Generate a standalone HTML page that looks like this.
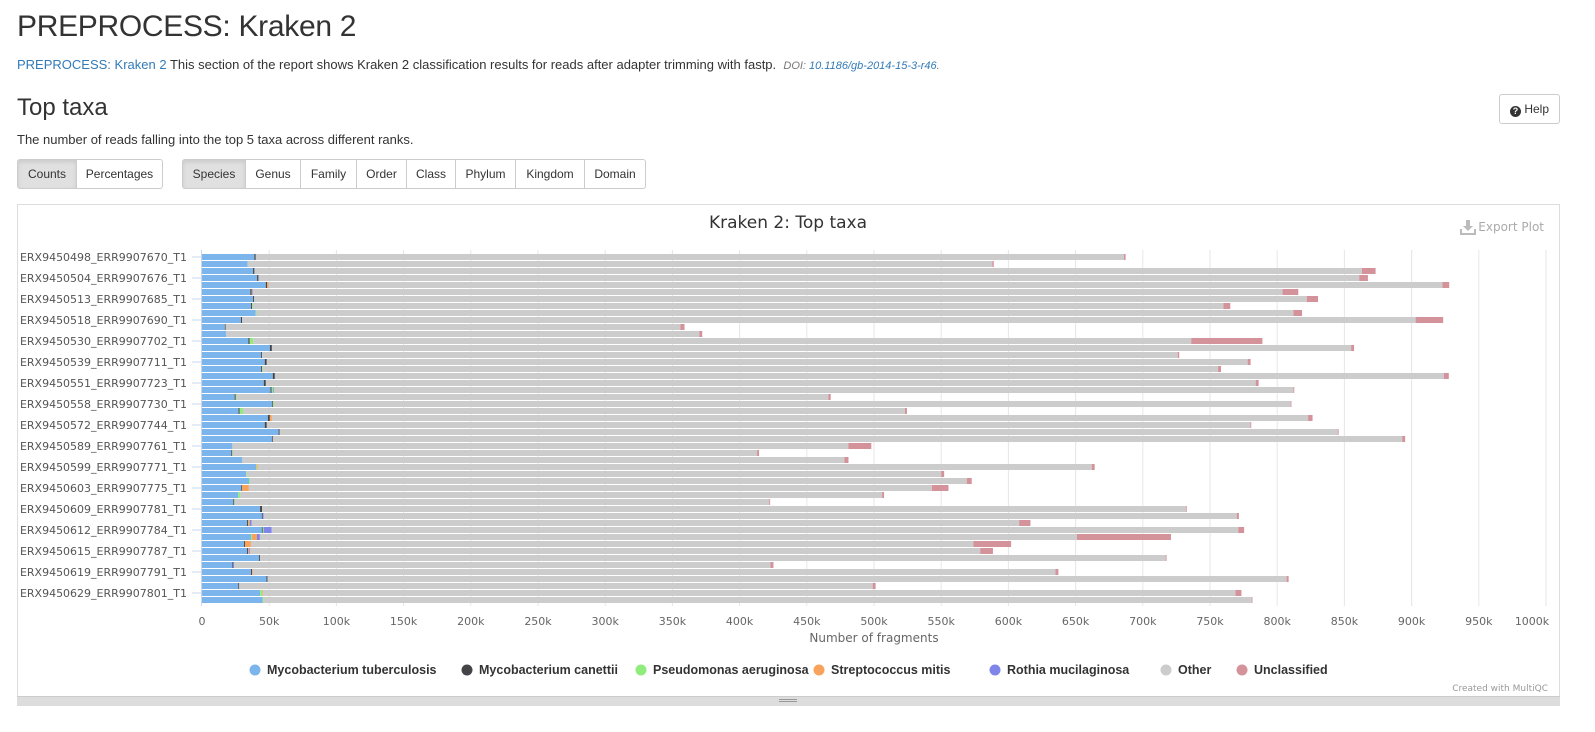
<!DOCTYPE html>
<html><head><meta charset="utf-8">
<style>
body{margin:0;background:#fff;font-family:"Liberation Sans",Arial,sans-serif;color:#333;width:1595px;height:732px;overflow:hidden;position:relative}
.abs{position:absolute}
h1{position:absolute;left:17px;top:10px;margin:0;font-size:30px;font-weight:500;color:#333;letter-spacing:-0.3px}
h2{position:absolute;left:17px;top:94px;margin:0;font-size:24px;font-weight:500}
.btn{position:absolute;height:28px;border:1px solid #ccc;background:#fff;font-size:12px;line-height:28px;text-align:center;color:#333;box-sizing:border-box}
.act{background:#e0e0e0;box-shadow:inset 0 2px 4px rgba(0,0,0,.1)}
.qi{display:inline-block;width:11px;height:11px;border-radius:50%;background:#333;color:#fff;font-size:9px;line-height:11px;font-weight:bold;text-align:center;vertical-align:-1px}
</style></head><body>
<h1>PREPROCESS: Kraken 2</h1>
<div class="abs" style="left:17px;top:57px;font-size:13px"><span style="color:#337ab7">PREPROCESS: Kraken 2</span> This section of the report shows Kraken 2 classification results for reads after adapter trimming with fastp. &nbsp;<i style="font-size:11px;color:#777">DOI: <span style="color:#337ab7">10.1186/gb-2014-15-3-r46</span>.</i></div>
<h2>Top taxa</h2>
<div class="btn" style="left:1499px;top:94px;width:61px;height:30px;line-height:29px;border-radius:3px"><span class="qi">?</span> Help</div>
<div class="abs" style="left:17px;top:132px;font-size:13px">The number of reads falling into the top 5 taxa across different ranks.</div>
<div class="btn act" style="left:17px;top:159px;width:60px;height:30px;line-height:29px;border-radius:3px 0 0 3px">Counts</div>
<div class="btn" style="left:76px;top:159px;width:87px;height:30px;line-height:29px;border-radius:0 3px 3px 0">Percentages</div>
<div class="btn act" style="left:182px;top:159px;width:64px;height:30px;line-height:29px;border-radius:3px 0 0 3px">Species</div>
<div class="btn" style="left:245px;top:159px;width:56px;height:30px;line-height:29px">Genus</div>
<div class="btn" style="left:300px;top:159px;width:57px;height:30px;line-height:29px">Family</div>
<div class="btn" style="left:356px;top:159px;width:51px;height:30px;line-height:29px">Order</div>
<div class="btn" style="left:406px;top:159px;width:50px;height:30px;line-height:29px">Class</div>
<div class="btn" style="left:455px;top:159px;width:61px;height:30px;line-height:29px">Phylum</div>
<div class="btn" style="left:515px;top:159px;width:70px;height:30px;line-height:29px">Kingdom</div>
<div class="btn" style="left:584px;top:159px;width:62px;height:30px;line-height:29px;border-radius:0 3px 3px 0">Domain</div>

<div class="abs" style="left:17px;top:204px;width:1543px;height:502px;border:1px solid #ddd;box-sizing:border-box"></div>
<div class="abs" style="left:17px;top:696px;width:1543px;height:10px;background:#ddd;border-top:1px solid #ccc;box-sizing:border-box"><div style="position:absolute;left:762px;top:2px;width:18px;height:1px;border-top:1px solid #999;border-bottom:1px solid #999"></div></div>
<svg class="abs" style="left:0;top:0" width="1595" height="732" id="chart"></svg>
<script>
const labels=["ERX9450498_ERR9907670_T1","ERX9450504_ERR9907676_T1","ERX9450513_ERR9907685_T1","ERX9450518_ERR9907690_T1","ERX9450530_ERR9907702_T1","ERX9450539_ERR9907711_T1","ERX9450551_ERR9907723_T1","ERX9450558_ERR9907730_T1","ERX9450572_ERR9907744_T1","ERX9450589_ERR9907761_T1","ERX9450599_ERR9907771_T1","ERX9450603_ERR9907775_T1","ERX9450609_ERR9907781_T1","ERX9450612_ERR9907784_T1","ERX9450615_ERR9907787_T1","ERX9450619_ERR9907791_T1","ERX9450629_ERR9907801_T1"];
const seriesNames=["Mycobacterium tuberculosis","Mycobacterium canettii","Pseudomonas aeruginosa","Streptococcus mitis","Rothia mucilaginosa","Other","Unclassified"];
const seriesColors=["#7cb5ec","#434348","#90ed7d","#f7a35c","#8085e9","#cccccc","#d4939b"];
const tuberculosis=[39,34,38,41,47.5,36,38,36.5,40,29,17,18,34.5,50.5,44,46.7,44,52.7,46,51,24.3,52,27.2,49,46.7,57,52,22.6,21.8,30,40.2,32.8,35,29.2,27,23.3,43.2,44.5,33.5,44.5,36.5,31.3,33.5,42.4,22.6,36.5,48,27,43.2,45];
const canettii=[1,0,1,1,1,1,0.8,0.8,0,0.8,0.6,0,1,1.5,0.7,1.5,0.7,1.5,1.5,0.8,0.8,0.7,0.8,1.5,1.5,0.7,0.7,0,0.7,0,0,0,0,0.7,0,0.7,1.5,0.7,0.7,0.7,0,0.7,0.7,0.7,0.7,0.7,0.7,0.7,0,0];
const aeruginosa=[0,0,0,0,0,0,0,0.5,0.5,0,0,0,2.5,0,0,0,0.5,0,0,1.2,0.6,0.5,2.5,0,0,0,0,0,0.3,0,0.5,0.4,0.7,0,1.5,0.3,0,0,0.3,0.7,0.7,0,0,0,0,0,0,0,1.5,0.5];
const mitis=[0,0,0,0,1,0.3,0,0,0,0,0,0,0,0,0,0,0,0,0,0,0,0,0,1.5,0,0,0,0,0,0,0.8,0,0,5,0,0,0,0,1,0,3.7,4.4,0.7,0,0,0.5,0,0,0.5,0];
const mucilaginosa=[0,0,0,0,0,0.3,0,0,0,0,0,0,0,0,0,0,0,0,0,0.5,0,0,0,0,0,0,0,0,0,0,0,0,0,0,0,0,0,0.7,1.5,6,2.2,0,0.7,0,0.7,0,0,0,0,0];
const otherEnd=[686,588,863,861,923,804,822,760,812,903,356,370,736,855,726,778,756,924,784,812,466,810,523,823,780,845,893,481,413,478,662,550,569,543,506,422,732,770,608,771,651,574,579,717,423,635,807,499,769,781];
const unclassified=[1.2,1.1,10.2,6.5,5,11.7,8.4,5.1,6.5,20.5,3,2.2,53,2.2,1.1,2.2,2.2,3.7,2.2,0.7,1.8,0.3,1.5,3.3,0.7,0.7,2.2,17,1.5,3,2.2,2.2,3.7,12.4,1.5,0.7,0.7,1.5,8.4,4.4,70,28,9.5,0.7,2.2,2.2,1.5,2.2,4.4,0.5];
const xTicks=[0,50,100,150,200,250,300,350,400,450,500,550,600,650,700,750,800,850,900,950,1000];

const svg=document.getElementById('chart');
const NS='http://www.w3.org/2000/svg';
const X0=202,XPX=1.344,Y0=254,PITCH=7.0,BH=6;
function xs(v){return X0+v*XPX;}
function yb(i){return Y0+i*PITCH;}
function mk(t,a){const e=document.createElementNS(NS,t);for(const k in a)e.setAttribute(k,a[k]);svg.appendChild(e);return e;}
let t=mk('text',{x:788,y:228,'text-anchor':'middle','font-size':17,fill:'#333','font-family':'DejaVu Sans, sans-serif'});t.textContent='Kraken 2: Top taxa';


let ex=mk('text',{x:1544,y:231,'text-anchor':'end','font-size':12,fill:'#aaa','font-family':'DejaVu Sans, sans-serif'});ex.textContent='Export Plot';


let ei=mk('path',{d:'M1466 220h4v6h3l-5 5-5-5h3z M1460 229h2v4h12v-4h2v6h-16z',fill:'#bbb'});


const nBars=otherEnd.length;
const plotBottom=yb(nBars-1)+BH+3;
xTicks.forEach(v=>{
  if(v>0){const g=mk('line',{x1:xs(v),x2:xs(v),y1:250,y2:plotBottom,stroke:'#e6e6e6','stroke-width':1});
  
  }
  const tx=mk('text',{x:v===1000?xs(v)-14:xs(v),y:625,'text-anchor':'middle','font-size':11,fill:'#666','font-family':'DejaVu Sans, sans-serif'});
  tx.textContent=v===0?'0':v+'k';
  
  
});
let at=mk('text',{x:874,y:642,'text-anchor':'middle','font-size':12,fill:'#666','font-family':'DejaVu Sans, sans-serif'});at.textContent='Number of fragments';


let ax=mk('line',{x1:X0-0.5,x2:X0-0.5,y1:250,y2:plotBottom,stroke:'#ccd6eb'});


for(let i=0;i<nBars;i++){
  const vals=[tuberculosis[i],canettii[i],aeruginosa[i],mitis[i],mucilaginosa[i]];
  const small=vals.reduce((a,b)=>a+b,0);
  vals.push(otherEnd[i]-small);vals.push(unclassified[i]);
  let acc=0;
  vals.forEach((v,s)=>{
    if(v<=0)return;
    const r=mk('rect',{x:xs(acc),y:yb(i),width:Math.max(v*XPX,0.8),height:BH,fill:seriesColors[s]});
    
    
    acc+=v;
  });
}
labels.forEach((l,k)=>{
  const yy=yb(k*3)+BH/2;
  const tk=mk('line',{x1:X0-10,x2:X0,y1:yy,y2:yy,stroke:'#ccd6eb'});
  
  
  const tx=mk('text',{x:187,y:yy+4,'text-anchor':'end','font-size':11,fill:'#555','font-family':'DejaVu Sans, sans-serif'});
  tx.textContent=l;
  
  
});
const legX=[255,467,641,819,995,1166,1242];
seriesNames.forEach((n,s)=>{
  const c=mk('circle',{cx:legX[s],cy:670,r:5.5,fill:seriesColors[s]});
  
  
  const tx=mk('text',{x:legX[s]+12,y:674,'font-size':12.5,'font-weight':'bold',fill:'#333','font-family':'Liberation Sans, sans-serif'});
  tx.textContent=n;
  
  
});
let cr=mk('text',{x:1548,y:691,'text-anchor':'end','font-size':9,fill:'#999','font-family':'DejaVu Sans, sans-serif'});cr.textContent='Created with MultiQC';


</script>
</body></html>
